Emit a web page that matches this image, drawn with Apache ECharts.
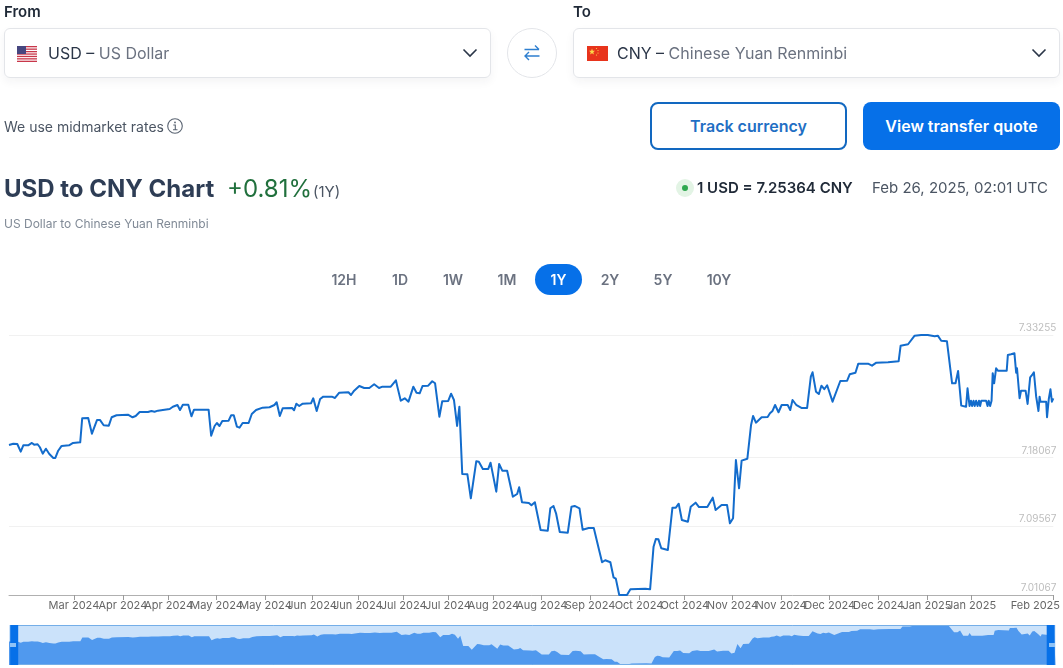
<!DOCTYPE html>
<html>
<head>
<meta charset="utf-8">
<title>USD to CNY Chart</title>
<script src="https://cdn.jsdelivr.net/npm/echarts@6/dist/echarts.min.js"></script>
<style>
html,body{margin:0;padding:0;background:#fff;width:1063px;height:668px;overflow:hidden;font-family:Inter,"Noto Sans",sans-serif;}
#chart{position:absolute;left:0;top:0;width:1063px;height:668px;}
.a{position:absolute;white-space:nowrap;}
.lbl{font-size:15px;font-weight:600;color:#1f2937;line-height:18px;}
.sel{box-sizing:border-box;height:50px;top:28px;width:487px;background:#fff;border:1px solid #e3e5e9;border-radius:6px;box-shadow:0 4px 10px rgba(30,40,60,.05);}
.seltxt{top:43px;font-size:16px;line-height:20px;color:#2b3648;}
.seltxt span{color:#6b7280;}
.btn{box-sizing:border-box;top:102px;width:197px;height:48px;border-radius:8px;font-size:16px;font-weight:600;text-align:center;line-height:44px;}
.pill{top:264px;height:31px;line-height:32px;font-size:14px;font-weight:600;color:#6b7280;text-align:center;width:50px;}
.mark{width:6px;height:4px;background:#8fc3f6;top:643px;}
</style>
</head>
<body>
<div id="chart"></div>

<div class="a lbl" style="left:4px;top:3px;">From</div>
<div class="a sel" style="left:4px;"></div>
<svg class="a" style="left:17px;top:46px;" width="20" height="16" viewBox="0 0 20 16">
<rect width="20" height="16" fill="#fff"/>
<g fill="#c8374a"><rect y="0" width="20" height="1.3"/><rect y="2.5" width="20" height="1.3"/><rect y="5" width="20" height="1.3"/><rect y="7.4" width="20" height="1.3"/><rect y="9.8" width="20" height="1.3"/><rect y="12.2" width="20" height="1.3"/><rect y="14.7" width="20" height="1.3"/></g>
<rect width="9" height="8" fill="#46467f"/>
</svg>
<div class="a seltxt" style="left:48px;">USD – <span>US Dollar</span></div>
<svg class="a" style="left:462px;top:47px;" width="16" height="12" viewBox="0 0 16 12"><path d="M1.5 2.5 L8 9 L14.5 2.5" fill="none" stroke="#2b3648" stroke-width="1.6"/></svg>

<div class="a" style="left:507px;top:28px;width:50px;height:50px;box-sizing:border-box;border:1px solid #e3e5e9;border-radius:50%;"></div>
<svg class="a" style="left:523px;top:44px;" width="18" height="18" viewBox="0 0 18 18"><path d="M1.5 5.5H16M12 1.5L16 5.5M16.500 12H2M6 8L2 12L6 16" fill="none" stroke="#2e7fd0" stroke-width="1.4"/></svg>

<div class="a lbl" style="left:573px;top:3px;">To</div>
<div class="a sel" style="left:573px;"></div>
<svg class="a" style="left:587px;top:46px;" width="21" height="15" viewBox="0 0 21 15"><rect width="21" height="15" fill="#e8341c"/><path d="M5 2.500l.8 2.200 2.200.1-1.700 1.400.6 2.200-1.900-1.200-1.900 1.200.6-2.200-1.700-1.400 2.200-.1z" fill="#fbd84a"/><circle cx="9.500" cy="2.500" r=".6" fill="#fbd84a"/><circle cx="11" cy="4.500" r=".6" fill="#fbd84a"/><circle cx="11" cy="7" r=".6" fill="#fbd84a"/><circle cx="9.500" cy="9" r=".6" fill="#fbd84a"/></svg>
<div class="a seltxt" style="left:617px;">CNY – <span>Chinese Yuan Renminbi</span></div>
<svg class="a" style="left:1031px;top:47px;" width="16" height="12" viewBox="0 0 16 12"><path d="M1.500 2.500 L8 9 L14.500 2.500" fill="none" stroke="#2b3648" stroke-width="1.600"/></svg>

<div class="a" style="left:4px;top:118px;font-size:14px;line-height:18px;color:#4b5563;">We use midmarket rates</div>
<svg class="a" style="left:166px;top:117px;" width="18" height="18" viewBox="0 0 18 18"><circle cx="9" cy="9" r="7.300" fill="none" stroke="#5a6472" stroke-width="1.100"/><path d="M7.300 8H9.300V12.800M7 12.800H11.500" fill="none" stroke="#5a6472" stroke-width="1.100"/><circle cx="9" cy="5.400" r=".9" fill="#5a6472"/></svg>

<div class="a btn" style="left:650px;border:2px solid #1268c0;color:#1f6fc4;background:#fff;">Track currency</div>
<div class="a btn" style="left:863px;background:#0670e8;color:#fff;line-height:48px;">View transfer quote</div>

<div class="a" style="left:4px;top:174px;font-size:24px;line-height:30px;font-weight:700;color:#2e3d55;">USD to CNY Chart</div>
<div class="a" style="left:227px;top:174px;font-size:24px;line-height:30px;color:#21703d;">+0.81%</div>
<div class="a" style="left:313px;top:182px;font-size:15px;line-height:20px;color:#4b5563;">(1Y)</div>
<div class="a" style="left:4px;top:216px;font-size:12px;line-height:16px;color:#808a96;">US Dollar to Chinese Yuan Renminbi</div>

<div class="a" style="left:676px;top:179px;width:18px;height:18px;border-radius:50%;background:#e3f4e5;"></div>
<div class="a" style="left:682px;top:185px;width:6px;height:6px;border-radius:50%;background:#2fa84f;"></div>
<div class="a" style="left:697px;top:178px;font-size:15px;line-height:20px;font-weight:600;color:#1f2937;">1 USD = 7.25364 CNY</div>
<div class="a" style="left:872px;top:178px;font-size:15px;line-height:20px;color:#4b5563;">Feb 26, 2025, 02:01 UTC</div>

<div class="a pill" style="left:319px;">12H</div>
<div class="a pill" style="left:375px;">1D</div>
<div class="a pill" style="left:428px;">1W</div>
<div class="a pill" style="left:482px;">1M</div>
<div class="a pill" style="left:535px;width:47px;background:#0670e8;color:#fff;border-radius:16px;">1Y</div>
<div class="a pill" style="left:585px;">2Y</div>
<div class="a pill" style="left:638px;">5Y</div>
<div class="a pill" style="left:694px;">10Y</div>

<div class="a mark" style="left:10px;"></div>
<div class="a mark" style="left:1049px;"></div>

<script>
// Days since 26 Feb 2024
const dayOffsets = [
0,1.5,2.9,4.1,5,6.7,8,8.8,10,10.8,11.8,12.9,14.1,15.5,16.2,17.2,18.4,21,22.4,24.9,
25.6,27.7,29,30.8,31.8,33.1,34.9,35.9,37.6,41.6,43.2,44.3,45.7,48.6,49.8,50.9,52.1,53.8,56.2,57.3,
58.9,59.8,60.8,62.7,63.8,64.7,69.8,70.7,71.9,72.7,73.6,74.6,76.8,77.7,78.6,79.7,80.6,81.7,83.8,84.9,
86.4,88.7,91.1,92.8,93.6,94.7,95.7,99,99.7,100.5,101.5,102.7,105.6,106.4,107.6,108.8,109.9,112.9,114,115.5,
118.7,119.6,120.7,122.5,124.2,126,127.7,129.4,130.6,133.5,135.3,135.8,137,138.4,139.7,141.4,142.5,143.6,144.6,146.6,
148,149,150.5,151.5,153.6,154.6,155.6,156.7,157.5,158.5,160.3,161.5,163.4,164.3,165.7,167.6,168.4,170.4,171.4,172.5,
174.2,176.2,177.7,178.4,179.4,181.8,182.7,183.9,184.5,185.9,188.4,189.3,190.4,191.3,192.6,195.4,196.7,197.8,199.5,200.6,
202.7,204.5,206.2,207.4,208.5,210.3,211.4,212.2,213.4,216.1,217.3,222.5,224.2,225.4,226.2,227.1,228.1,230.4,232,233.2,
234.2,235.3,237.4,238.4,240.1,241.3,244.2,246.1,247.1,249.2,251.1,252.1,253.2,254.2,255.3,256.2,258.2,259.5,260.2,261.2,
263.2,265.3,266.1,267,267.9,269.1,270.2,272.3,273.2,274,275.4,277.1,279.1,280.4,281,282.2,283.2,284.1,285.1,286.1,
288,290.7,293.1,294,296,297,300.4,301.8,303.3,307.4,308,311.1,311.8,314.4,316.7,319,321.3,323.7,324.8,326,
328,329.8,331,331.9,333,334.7,335.2,335.9,336.4,336.8,337.3,337.7,338.2,338.7,339.2,339.6,340,341.7,342.2,342.6,
343.1,343.6,344,344.5,345.2,345.8,348.9,349.3,349.9,350.4,351.6,352.2,352.5,353.4,353.9,355.5,356.2,357.1,357.8,358.4,
359.2,360,360.4,360.7,362.7,363,363.6,364.2,364.7,365.2
];
// USD to CNY rate at each of those days
const usdCnyRates = [
7.1964,7.1980,7.1976,7.1881,7.1960,7.1960,7.1989,7.1968,7.1973,7.1936,7.1856,7.1918,7.1853,7.1803,7.1803,7.1893,7.1952,7.1960,7.1989,7.1997,
7.2295,7.2298,7.2104,7.2274,7.2274,7.2208,7.2203,7.2307,7.2332,7.2339,7.2307,7.2323,7.2373,7.2373,7.2385,7.2376,7.2389,7.2397,7.2410,7.2438,
7.2459,7.2397,7.2463,7.2463,7.2319,7.2401,7.2401,7.2079,7.2199,7.2236,7.2199,7.2261,7.2265,7.2332,7.2332,7.2191,7.2178,7.2236,7.2236,7.2348,
7.2397,7.2426,7.2431,7.2459,7.2493,7.2323,7.2418,7.2422,7.2394,7.2475,7.2447,7.2475,7.2480,7.2542,7.2385,7.2533,7.2562,7.2562,7.2546,7.2611,
7.2616,7.2583,7.2636,7.2694,7.2670,7.2670,7.2715,7.2670,7.2686,7.2686,7.2765,7.2686,7.2512,7.2542,7.2500,7.2686,7.2611,7.2604,7.2694,7.2698,
7.2753,7.2728,7.2314,7.2505,7.2509,7.2599,7.2521,7.2199,7.2438,7.1605,7.1601,7.1304,7.1762,7.1757,7.1667,7.1667,7.1745,7.1386,7.1729,7.1646,
7.1646,7.1324,7.1357,7.1440,7.1255,7.1246,7.1217,7.1255,7.1242,7.0912,7.0903,7.1180,7.1209,7.1118,7.0887,7.0878,7.1200,7.1209,7.1180,7.0915,
7.0936,7.0936,7.0685,7.0512,7.0537,7.0512,7.0326,7.0309,7.0107,7.0107,7.0178,7.0185,7.0178,7.0705,7.0800,7.0796,7.0685,7.0664,7.1188,7.1188,
7.1237,7.1036,7.1014,7.1200,7.1250,7.1196,7.1196,7.1312,7.1159,7.1221,7.1221,7.0995,7.1057,7.1778,7.1428,7.1770,7.1794,7.2212,7.2323,7.2240,
7.2307,7.2311,7.2356,7.2385,7.2459,7.2369,7.2459,7.2459,7.2397,7.2521,7.2456,7.2422,7.2422,7.2810,7.2864,7.2624,7.2595,7.2698,7.2654,7.2703,
7.2500,7.2756,7.2760,7.2839,7.2859,7.2971,7.2971,7.2946,7.2983,7.2988,7.2995,7.3000,7.3193,7.3211,7.3317,7.3325,7.3325,7.3310,7.3317,7.3255,
7.3248,7.2728,7.2728,7.2880,7.2451,7.2438,7.2666,7.2447,7.2512,7.2447,7.2512,7.2447,7.2512,7.2447,7.2512,7.2447,7.2512,7.2512,7.2447,7.2512,
7.2447,7.2512,7.2852,7.2728,7.2914,7.2884,7.2884,7.3078,7.3057,7.3087,7.3099,7.2859,7.2914,7.2542,7.2636,7.2636,7.2472,7.2802,7.2831,7.2864,
7.2562,7.2385,7.2562,7.2500,7.2500,7.2307,7.2530,7.2654,7.2500,7.2542
];
const xTickDays = [0,22.7,39.8,55.8,72.6,89.7,106,122,138,153.5,169.4,186.3,203.2,220.3,236.3,253,270,287,304.1,321,336.6,365.2];
const xTickLabels = ['Feb 2024','Mar 2024','Apr 2024','Apr 2024','May 2024','May 2024','Jun 2024','Jun 2024','Jul 2024','Jul 2024','Aug 2024','Aug 2024','Sep 2024','Oct 2024','Oct 2024','Nov 2024','Nov 2024','Dec 2024','Dec 2024','Jan 2025','Jan 2025','Feb 2025'];
const yTicks = [7.01067,7.09567,7.18067,7.33255];

const rows = dayOffsets.map((d,i)=>[d,usdCnyRates[i]]);
const font = 'Inter';
const chart = echarts.init(document.getElementById('chart'),null,{renderer:'canvas'});
chart.setOption({
  animation:false,
  grid:[
    {left:9,right:7.5,top:335,height:260},
    {left:9,right:7.5,top:625,height:40,show:true,backgroundColor:'#cbe2fa',borderWidth:0}
  ],
  xAxis:[
    {type:'value',gridIndex:0,min:0,max:365.2,splitLine:{show:false},
     axisLine:{show:true,lineStyle:{color:'#b0b0b0',width:1}},
     axisTick:{show:true,length:5,customValues:xTickDays,lineStyle:{color:'#9a9a9a'}},
     axisLabel:{customValues:xTickDays,hideOverlap:false,margin:5,fontFamily:font,fontSize:11,color:'#666',
       formatter:function(v){
         const i=xTickDays.indexOf(v), t=xTickLabels[i];
         if(i===0) return '{first|'+t+'}';
         if(i===xTickDays.length-1) return '{last|'+t+'}';
         return t;
       },
       rich:{first:{padding:[0,0,0,35],fontFamily:font,fontSize:11,color:'#666'},
             last:{padding:[0,36,0,0],fontFamily:font,fontSize:11,color:'#666'}}}},
    {type:'value',gridIndex:1,min:0,max:365.2,show:false}
  ],
  yAxis:[
    {type:'value',gridIndex:0,position:'right',min:7.01067,max:7.33255,
     axisLine:{show:false},
     axisTick:{show:false,customValues:yTicks},
     splitLine:{show:true,lineStyle:{color:'#f1f1f1',width:1}},
     axisLabel:{inside:true,customValues:yTicks,margin:-3,verticalAlign:'bottom',fontFamily:font,fontSize:10,
       padding:[0,0,2,0],
       color:function(v){return v===7.33255?'#777':'#bdbdbd';},
       formatter:function(v){return v.toFixed(5);}}},
    {type:'value',gridIndex:1,min:7.005,max:7.3325,show:false,splitLine:{show:false}}
  ],
  dataZoom:[{type:'slider',xAxisIndex:0,start:0,end:100,left:13,right:11.5,top:625,height:40,
    showDataShadow:false,showDetail:false,brushSelect:false,moveHandleSize:0,
    backgroundColor:'transparent',fillerColor:'transparent',borderColor:'#74aee8',borderRadius:0,
    handleIcon:'path://M0 0H8V40H0Z',handleSize:'100%',
    handleStyle:{color:'#0670e8',borderColor:'#0670e8',borderWidth:0},
    emphasis:{handleStyle:{color:'#0670e8'}}}],
  series:[
    {type:'line',name:'USD to CNY',xAxisIndex:0,yAxisIndex:0,data:rows,showSymbol:false,clip:false,
     lineStyle:{color:'#136ccc',width:2,join:'round'},silent:true},
    {type:'line',name:'Overview',xAxisIndex:1,yAxisIndex:1,data:rows,showSymbol:false,
     lineStyle:{width:0},areaStyle:{color:'#5099ee',opacity:1},silent:true}
  ]
});
</script>
</body>
</html>
